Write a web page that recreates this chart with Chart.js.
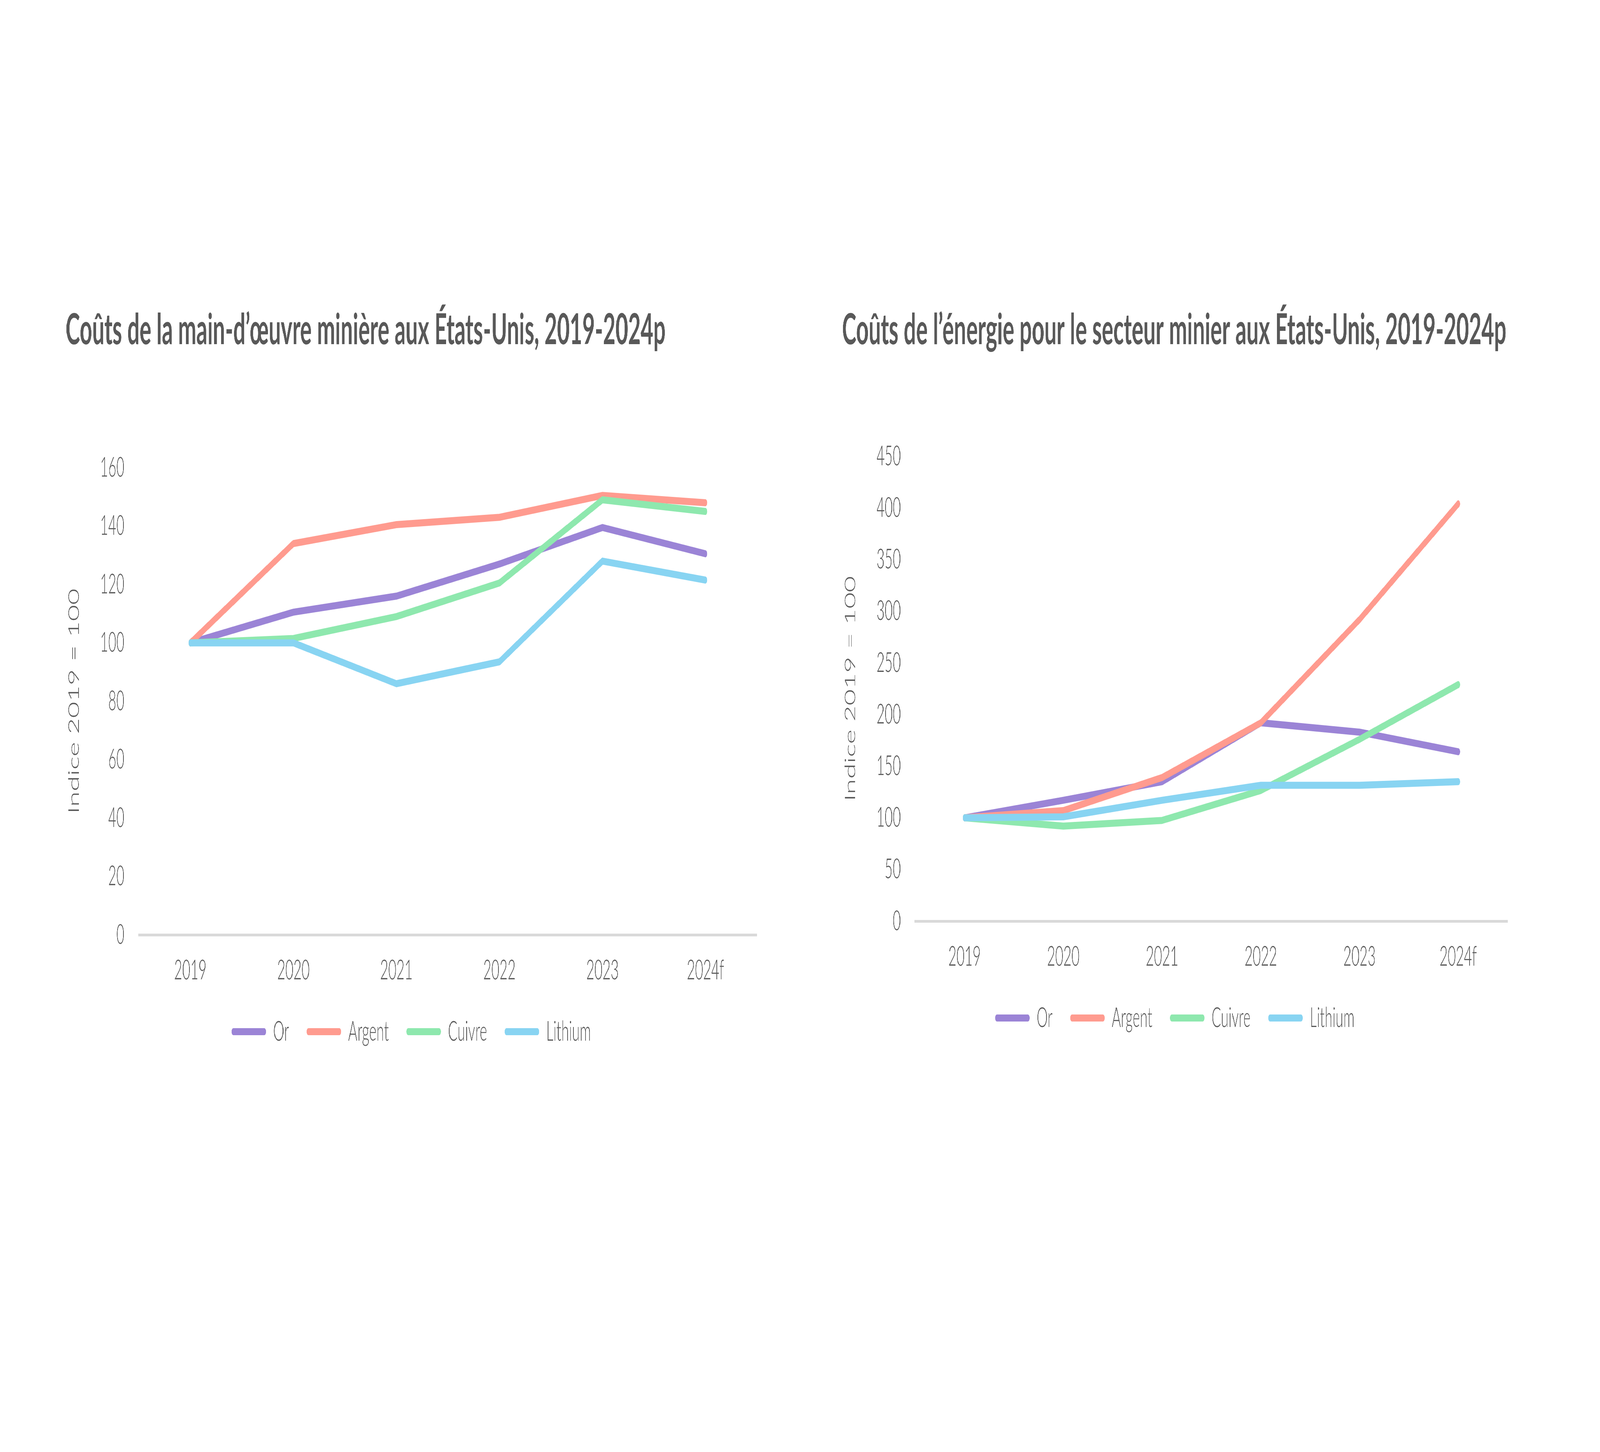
<!DOCTYPE html>
<html lang="fr">
<head>
<meta charset="utf-8">
<script src="https://cdn.jsdelivr.net/npm/chart.js@4.4.1/dist/chart.umd.min.js"></script>
<style>
  html, body { margin:0; padding:0; background:#ffffff; overflow:hidden; }
  #stage { position:absolute; left:0; top:0; width:8000px; height:3717px; background:#ffffff; transform-origin:0 0; }
  .box { position:absolute; }
  canvas { display:block; }
</style>
</head>
<body>
<div id="stage">
  <div class="box" style="left:328px; top:720px;"><canvas id="chartL" width="3522" height="1966"></canvas></div>
  <div class="box" style="left:4210px; top:720px;"><canvas id="chartR" width="3390" height="1931"></canvas></div>
</div>
<script>
// ---- data ----
const categories = ['2019', '2020', '2021', '2022', '2023', '2024f'];
const seriesNames = ['Or', 'Argent', 'Cuivre', 'Lithium'];

// Coûts de la main-d'œuvre (indice 2019 = 100)
const laborOr      = [100, 110.5, 116, 127, 139.5, 130.5];
const laborArgent  = [100, 134, 140.5, 143, 150.5, 148];
const laborCuivre  = [100, 101.5, 109, 120.5, 149, 145];
const laborLithium = [100, 100, 86, 93.5, 128, 121.5];

// Coûts de l'énergie (indice 2019 = 100)
const energyOr      = [100, 117, 135, 192, 183, 164];
const energyArgent  = [100, 107, 139, 192, 292, 404];
const energyCuivre  = [100, 92, 97.5, 126.5, 176, 229];
const energyLithium = [100, 101, 117, 131.5, 131.5, 135];

const laborTicks  = [0, 20, 40, 60, 80, 100, 120, 140, 160];
const energyTicks = [0, 50, 100, 150, 200, 250, 300, 350, 400, 450];

const titleLabor  = 'Coûts de la main-d’œuvre minière aux États-Unis, 2019-2024p';
const titleEnergy = 'Coûts de l’énergie pour le secteur minier aux États-Unis, 2019-2024p';
const yTitle = 'Indice 2019 = 100';

// ---- fit the 8000×3717 design to the actual window ----
const stage = document.getElementById('stage');
stage.style.transform = 'scale(' + (window.innerWidth / 8000) + ',' + (window.innerHeight / 3717) + ')';

// ---- styles ----
const colors = ['#9B84D6', '#FF9B8F', '#8EE8AE', '#88D4F2'];
const textColor = '#595959';
const lightFont = 'Lato';

function makeDatasets(arrs) {
  return arrs.map((d, i) => ({
    label: seriesNames[i],
    data: d,
    borderColor: colors[i],
    backgroundColor: colors[i],
    borderWidth: 18,
    borderCapStyle: 'round',
    borderJoinStyle: 'round',
    pointRadius: 0,
    pointHoverRadius: 0,
    tension: 0,
    fill: false,
    order: arrs.length - 1 - i
  }));
}

function makeConfig(datasets, ticks, title, opt) {
  const tmin = ticks[0], tmax = ticks[ticks.length - 1], step = ticks[1] - ticks[0];
  return {
    type: 'line',
    data: { labels: categories, datasets: datasets },
    options: {
      responsive: false,
      maintainAspectRatio: false,
      devicePixelRatio: 1,
      animation: false,
      events: [],
      layout: { padding: { left: 0, right: opt.padRight, top: 0, bottom: 0 } },
      plugins: {
        tooltip: { enabled: false },
        title: {
          display: true,
          text: title,
          align: 'start',
          color: textColor,
          font: { family: 'Lato', weight: 'bold', size: 108.5, lineHeight: 1.2 },
          padding: { top: 61, bottom: opt.titleBottom }
        },
        legend: {
          display: true,
          position: 'bottom',
          align: 'center',
          labels: {
            color: textColor,
            font: { family: lightFont, weight: 300, size: 70 },
            boxWidth: 173,
            boxHeight: 18,
            padding: 88,
            generateLabels: (chart) => chart.data.datasets.map((ds, i) => ({
              text: ds.label,
              fillStyle: ds.borderColor,
              strokeStyle: ds.borderColor,
              lineWidth: 0,
              hidden: false,
              datasetIndex: i,
              fontColor: textColor,
              borderRadius: 9
            }))
          }
        }
      },
      scales: {
        x: {
          offset: true,
          grid: { display: false, drawTicks: false },
          border: { display: true, color: '#D9D9D9', width: 7 },
          ticks: {
            color: textColor,
            font: { family: lightFont, weight: 300, size: 70 },
            padding: 49,
            maxRotation: 0
          },
          afterFit: (s) => { s.height = s.height - 57; }
        },
        y: {
          min: tmin,
          max: tmax,
          grid: { display: false, drawTicks: false },
          border: { display: false },
          ticks: {
            stepSize: step,
            color: textColor,
            font: { family: lightFont, weight: 300, size: 70 },
            padding: 72
          },
          title: {
            display: true,
            text: yTitle,
            color: textColor,
            font: { family: lightFont, weight: 300, size: 72, lineHeight: 1.2 },
            padding: { top: 0, bottom: 14 }
          }
        }
      }
    }
  };
}

new Chart(document.getElementById('chartL'),
  makeConfig(makeDatasets([laborOr, laborArgent, laborCuivre, laborLithium]), laborTicks, titleLabor,
    { padRight: 65, titleBottom: 286 }));
new Chart(document.getElementById('chartR'),
  makeConfig(makeDatasets([energyOr, energyArgent, energyCuivre, energyLithium]), energyTicks, titleEnergy,
    { padRight: 62, titleBottom: 257 }));
</script>
</body>
</html>
